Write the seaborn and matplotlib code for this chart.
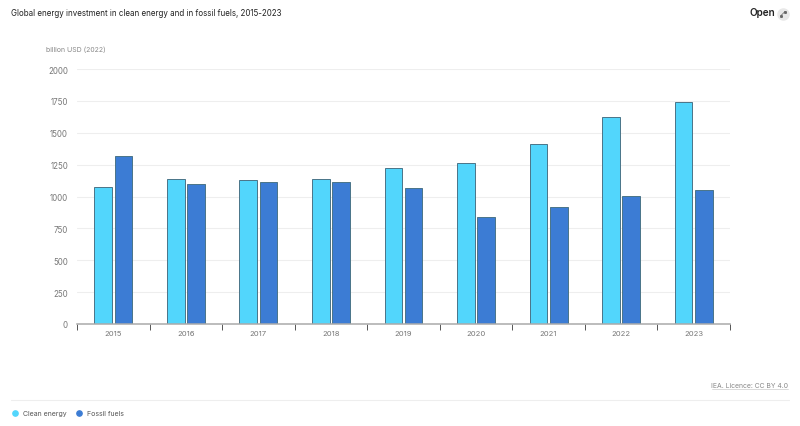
import numpy as np
import pandas as pd
import matplotlib
matplotlib.use("Agg")
import matplotlib.pyplot as plt
from matplotlib.lines import Line2D
import seaborn as sns

years = ["2015", "2016", "2017", "2018", "2019", "2020", "2021", "2022", "2023"]
clean_energy = [1075, 1135, 1130, 1137, 1224, 1263, 1412, 1620, 1741]
fossil_fuels = [1318, 1100, 1114, 1110, 1067, 839, 915, 1002, 1050]
y_ticks = [0, 250, 500, 750, 1000, 1250, 1500, 1750, 2000]

clean_color = "#52d6fc"
fossil_color = "#3c7cd4"
text_color = "#777777"

df = pd.DataFrame({
    "year": years * 2,
    "value": clean_energy + fossil_fuels,
    "series": ["Clean energy"] * len(years) + ["Fossil fuels"] * len(years),
})

sns.set_theme(style="white")
plt.rcParams["font.family"] = ["Inter", "DejaVu Sans"]

fig = plt.figure(figsize=(8, 4.27), dpi=100)
# axes box taken from the reference pixels
ax = fig.add_axes([77 / 800, 1 - 325 / 427, (730 - 77) / 800, (325 - 70) / 427])

sns.barplot(data=df, x="year", y="value", hue="series",
            palette=[clean_color, fossil_color], saturation=1, width=0.56, gap=0.13,
            edgecolor="#4a7488", linewidth=0.7, legend=False, ax=ax)

ax.set_xlim(-0.5, len(years) - 0.5)
ax.set_ylim(0, 2000)
ax.set_xlabel("")
ax.set_ylabel("")
ax.set_yticks(y_ticks)
ax.yaxis.grid(True, color="#eeeeee", linewidth=0.8)
ax.set_axisbelow(True)
sns.despine(ax=ax, left=True)
ax.spines["bottom"].set_color("#aaaaaa")
ax.spines["bottom"].set_linewidth(1.1)

ax.tick_params(axis="y", length=0, labelsize=5.7, labelcolor=text_color, pad=6.5)
# ticks sit between the categories, labels stay centred
ax.set_xticks(np.arange(len(years)), years)
ax.tick_params(axis="x", which="major", length=0, labelsize=5.5, labelcolor=text_color, pad=4.5)
ax.set_xticks(np.arange(-0.5, len(years)), minor=True)
ax.tick_params(axis="x", which="minor", bottom=True, length=4.5, width=0.7, color="#555555")

fig.text(11 / 800, 1 - 13.5 / 427, "Global energy investment in clean energy and in fossil fuels, 2015-2023",
         fontsize=5.75, color="#222222", va="center")
fig.text(46 / 800, 1 - 50 / 427, "billion USD (2022)", fontsize=5, color="#888888", va="center")
fig.text(750 / 800, 1 - 13.5 / 427, "Open", fontsize=7.2, fontweight="semibold", color="#222222", va="center")
fig.text(788 / 800, 1 - 386 / 427, "IEA. Licence: CC BY 4.0", fontsize=4.9, color="#888888",
         va="center", ha="right")

# footer rule and the licence underline
fig.add_artist(Line2D([11 / 800, 789 / 800], [1 - 400.5 / 427] * 2, color="#eeeeee", linewidth=0.8))
fig.add_artist(Line2D([712 / 800, 788 / 800], [1 - 390 / 427] * 2, color="#d5d5d5", linewidth=0.6))

# round open icon, no installed font has this double arrow
fig.add_artist(Line2D([783 / 800], [1 - 14.5 / 427], marker="o", markersize=8, color="#e8e8e8", linestyle="none"))
fig.add_artist(Line2D([781 / 800, 785 / 800], [1 - 16.5 / 427, 1 - 12.5 / 427], color="#666666", linewidth=0.5))
fig.add_artist(Line2D([781 / 800, 785 / 800], [1 - 16.5 / 427, 1 - 12.5 / 427], marker="s", markersize=1.1,
                      color="#666666", linestyle="none"))

# legend row at the bottom
handles = [
    Line2D([], [], marker="o", linestyle="none", markersize=3.8, color=clean_color, label="Clean energy"),
    Line2D([], [], marker="o", linestyle="none", markersize=3.8, color=fossil_color, label="Fossil fuels"),
]
fig.legend(handles=handles, loc="center left", bbox_to_anchor=(5.5 / 800, 1 - 414 / 427), ncol=2, frameon=False,
           fontsize=5, labelcolor="#555555", handletextpad=0.35, columnspacing=1.1, borderpad=0, handlelength=1.6)

fig.savefig("out.png", dpi=100, facecolor="white")
